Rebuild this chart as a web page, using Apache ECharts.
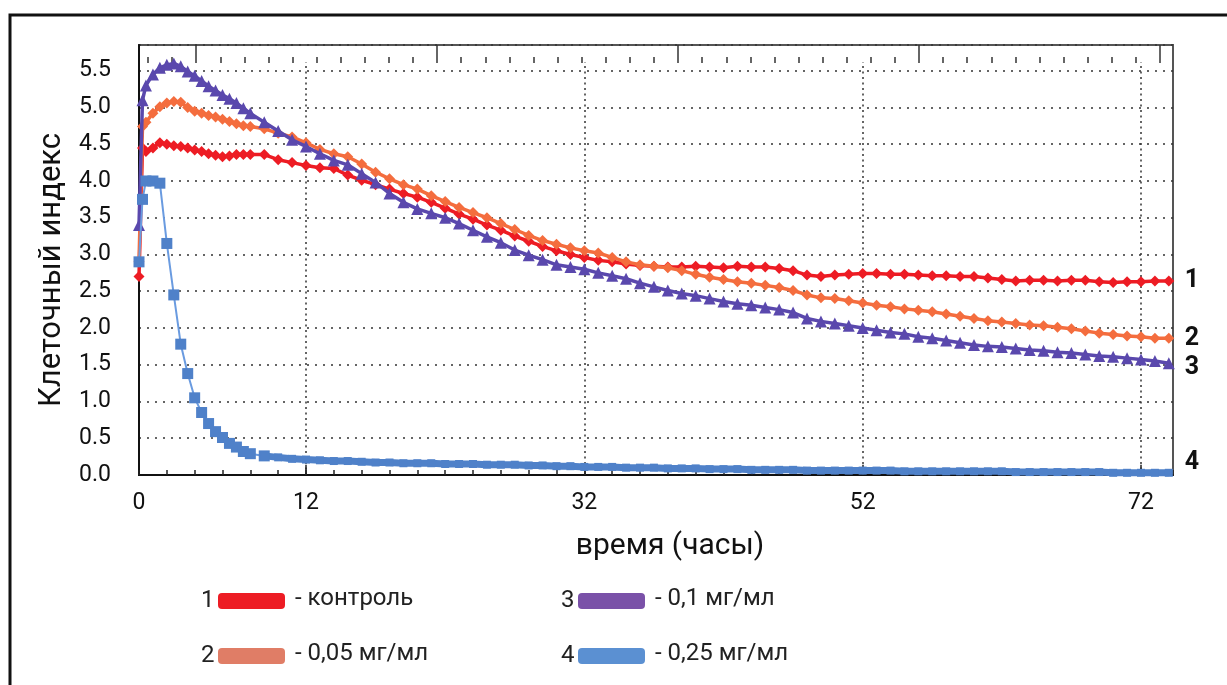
<!DOCTYPE html>
<html>
<head>
<meta charset="utf-8">
<script src="https://cdn.jsdelivr.net/npm/echarts@6/dist/echarts.min.js"></script>
<style>
  html, body { margin: 0; padding: 0; background: #fff; }
  #chart { width: 1227px; height: 685px; }
</style>
</head>
<body>
<div id="chart"></div>
<script>
// Time points, hours
const hours = [0, 0.25, 0.5, 1, 1.5, 2, 2.5, 3, 3.5, 4, 4.5, 5, 5.5, 6, 6.5, 7, 7.5, 8,
  9, 10, 11, 12, 13, 14, 15, 16, 17, 18, 19, 20, 21, 22, 23, 24, 25, 26, 27, 28,
  29, 30, 31, 32, 33, 34, 35, 36, 37, 38, 39, 40, 41, 42, 43, 44, 45, 46, 47, 48,
  49, 50, 51, 52, 53, 54, 55, 56, 57, 58, 59, 60, 61, 62, 63, 64, 65, 66, 67, 68,
  69, 70, 71, 72, 73, 74];

// Cell index, control
const control = [2.70, 4.45, 4.40, 4.45, 4.52, 4.50, 4.48, 4.47, 4.45, 4.42, 4.40, 4.37, 4.35, 4.33, 4.34, 4.36, 4.36, 4.36,
  4.36, 4.29, 4.25, 4.21, 4.18, 4.17, 4.08, 4.01, 3.95, 3.89,
  3.83, 3.78, 3.71, 3.63, 3.55, 3.48, 3.40, 3.33, 3.25, 3.18,
  3.11, 3.05, 3.00, 2.96, 2.92, 2.90, 2.87, 2.85, 2.84, 2.83,
  2.83, 2.84, 2.83, 2.82, 2.84, 2.83, 2.83, 2.81, 2.78, 2.72,
  2.70, 2.72, 2.73, 2.74, 2.74, 2.73, 2.73, 2.72, 2.71, 2.71,
  2.70, 2.70, 2.68, 2.66, 2.64, 2.65, 2.65, 2.64, 2.65, 2.65,
  2.63, 2.62, 2.63, 2.63, 2.64, 2.64];

// 0,05 mg/ml
const dose005 = [2.90, 4.74, 4.80, 4.92, 5.01, 5.06, 5.08, 5.07, 5.00, 4.95, 4.92, 4.89, 4.87, 4.84, 4.81, 4.78, 4.75, 4.74,
  4.71, 4.65, 4.60, 4.52, 4.43, 4.37, 4.33, 4.23, 4.12, 4.03,
  3.95, 3.89, 3.80, 3.72, 3.64, 3.57, 3.50, 3.42, 3.34, 3.26,
  3.19, 3.14, 3.09, 3.05, 3.02, 2.96, 2.90, 2.86, 2.84, 2.82,
  2.78, 2.73, 2.69, 2.66, 2.63, 2.61, 2.58, 2.55, 2.51, 2.45,
  2.41, 2.40, 2.37, 2.34, 2.31, 2.29, 2.26, 2.24, 2.22, 2.19,
  2.16, 2.13, 2.10, 2.08, 2.06, 2.04, 2.03, 2.01, 1.99, 1.96,
  1.93, 1.91, 1.89, 1.88, 1.86, 1.86];

// 0,1 mg/ml
const dose01 = [3.40, 5.10, 5.30, 5.45, 5.54, 5.58, 5.60, 5.56, 5.49, 5.43, 5.36, 5.29, 5.23, 5.17, 5.12, 5.06, 4.99, 4.92,
  4.80, 4.68, 4.56, 4.47, 4.37, 4.28, 4.22, 4.10, 3.98, 3.83,
  3.71, 3.62, 3.56, 3.50, 3.42, 3.33, 3.24, 3.16, 3.06, 2.99,
  2.93, 2.86, 2.83, 2.80, 2.75, 2.71, 2.67, 2.61, 2.56, 2.51,
  2.47, 2.44, 2.40, 2.36, 2.33, 2.31, 2.28, 2.25, 2.21, 2.13,
  2.09, 2.06, 2.03, 2.00, 1.97, 1.94, 1.92, 1.88, 1.86, 1.83,
  1.80, 1.77, 1.75, 1.74, 1.72, 1.70, 1.69, 1.67, 1.66, 1.64,
  1.62, 1.61, 1.59, 1.57, 1.55, 1.52];

// 0,25 mg/ml
const dose025 = [2.90, 3.75, 4.00, 4.00, 3.97, 3.15, 2.45, 1.78, 1.38, 1.05, 0.85, 0.70, 0.59, 0.51, 0.43, 0.38, 0.32, 0.29,
  0.26, 0.24, 0.22, 0.21, 0.20, 0.19, 0.19, 0.18, 0.17, 0.17,
  0.16, 0.16, 0.16, 0.15, 0.15, 0.15, 0.14, 0.14, 0.14, 0.13,
  0.13, 0.12, 0.12, 0.11, 0.11, 0.11, 0.10, 0.10, 0.10, 0.09,
  0.09, 0.09, 0.08, 0.08, 0.08, 0.07, 0.07, 0.07, 0.07, 0.06,
  0.06, 0.06, 0.06, 0.06, 0.06, 0.06, 0.05, 0.05, 0.05, 0.05,
  0.05, 0.05, 0.05, 0.05, 0.04, 0.04, 0.04, 0.04, 0.04, 0.04,
  0.04, 0.03, 0.03, 0.03, 0.03, 0.03];

const xTickLabels = [0, 12, 32, 52, 72];
const xGridHours = [12, 32, 52, 72];
const curveNumbers = ['1', '2', '3', '4'];
const legendTexts = ['- контроль', '- 0,05 мг/мл', '- 0,1 мг/мл', '- 0,25 мг/мл'];
const lineColors = ['#ed1c24', '#f46d3e', '#5a48ad', '#4f81c9'];
const swatchColors = ['#ed1c24', '#e07d66', '#7a51a8', '#5b90d2'];

const FONT = 'Roboto, "Noto Sans", sans-serif';
const pairs = (ys, from, to) => hours.slice(from, to).map((h, i) => [h, ys[from + i]]);

const chart = echarts.init(document.getElementById('chart'), null, { renderer: 'canvas' });

// dotted vertical guides plus the longer solid ticks on the time axis
const guideLines = [];
xGridHours.forEach(h => {
  guideLines.push([{ coord: [h, 0] }, { coord: [h, 5.62] }]);
  guideLines.push([{ coord: [h, 0], lineStyle: { type: 'solid', width: 1.5, color: '#222' } }, { coord: [h, 0.14] }]);
});

const endLabel = (txt, dy) => ({
  show: true,
  formatter: () => txt,
  distance: 16,
  offset: [0, dy],
  color: '#111',
  fontFamily: FONT,
  fontWeight: 'bold',
  fontSize: 25
});

// tick positions of the upper frame scale
const topTicks = Array.from({ length: 43 }, (_, i) => String(i));

// legend drawn as number, colour bar and caption
const legendGraphics = [];
const legendCols = [201, 561];
const legendRows = [601, 656];
curveNumbers.forEach((num, i) => {
  const col = legendCols[Math.floor(i / 2)];
  const row = legendRows[i % 2];
  legendGraphics.push({
    type: 'text', left: col, top: row - 12,
    style: { text: num, fontFamily: FONT, fontSize: 24, fill: '#222' }
  });
  legendGraphics.push({
    type: 'rect', shape: { x: col + 17, y: row - 8, width: 67, height: 16, r: 4 },
    style: { fill: swatchColors[i] }
  });
  legendGraphics.push({
    type: 'text', left: col + 94, top: row - 14,
    style: { text: legendTexts[i], fontFamily: FONT, fontSize: 24, fill: '#222' }
  });
});

const topAxis = (len, interval) => ({
  type: 'category', gridIndex: 1, position: 'top', boundaryGap: false, data: topTicks,
  axisLine: { show: false }, axisLabel: { show: false }, splitLine: { show: false }, splitArea: { show: false },
  axisTick: { show: true, inside: true, length: len, interval: interval, lineStyle: { color: '#333', width: 1.5, type: 'solid' } }
});

const option = {
  animation: false,
  backgroundColor: '#fff',
  grid: [
    { left: 139, top: 45, right: 54, bottom: 210, show: true, borderColor: '#555', borderWidth: 2, backgroundColor: 'transparent' },
    { left: 148, top: 45, width: 1012, height: 12 }
  ],
  xAxis: [
    {
      type: 'value', gridIndex: 0, min: 0, max: 74.3, interval: 2,
      name: 'время (часы)', nameLocation: 'middle', nameGap: 56,
      nameTextStyle: { fontFamily: FONT, fontSize: 30, color: '#111', padding: [0, 0, 0, 28] },
      axisLine: { show: true, lineStyle: { color: '#111', width: 2 } },
      axisTick: { show: true, inside: true, length: 5, lineStyle: { color: '#222', width: 1.5 } },
      axisLabel: {
        margin: 17, fontFamily: FONT, fontSize: 23, color: '#111',
        formatter: v => (xTickLabels.includes(Math.round(v * 100) / 100) ? String(Math.round(v)) : '')
      },
      splitLine: { show: false }
    },
    topAxis(6, 0),
    topAxis(12, i => i % 10 === 2)
  ],
  yAxis: [
    {
      type: 'value', gridIndex: 0, min: 0, max: 5.85, interval: 0.5,
      name: 'Клеточный индекс', nameLocation: 'middle', nameGap: 70, nameRotate: 90,
      nameTextStyle: { fontFamily: FONT, fontSize: 31, color: '#111', padding: [0, 20, 0, 0] },
      axisLine: { show: true, lineStyle: { color: '#111', width: 2 } },
      axisTick: { show: false },
      axisLabel: {
        margin: 28, fontFamily: FONT, fontSize: 23, color: '#111',
        formatter: v => (Math.abs(v * 2 - Math.round(v * 2)) < 1e-6 ? v.toFixed(1) : '')
      },
      splitLine: { show: true, lineStyle: { color: '#333', width: 1.5, type: [2, 6] } }
    },
    { type: 'value', gridIndex: 1, min: 0, max: 1, show: false }
  ],
  graphic: [
    { type: 'polyline', shape: { points: [[10, 685], [10, 15], [1227, 15]] }, style: { stroke: '#111', lineWidth: 3, fill: null } },
    ...legendGraphics
  ],
  series: [
    {
      type: 'line', name: legendTexts[0], data: pairs(control, 0, hours.length),
      xAxisIndex: 0, yAxisIndex: 0, z: 3,
      symbol: 'diamond', symbolSize: 11, showAllSymbol: true,
      itemStyle: { color: lineColors[0] }, lineStyle: { color: lineColors[0], width: 3.5 },
      endLabel: endLabel(curveNumbers[0], 0),
      markLine: {
        silent: true, symbol: ['none', 'none'], label: { show: false },
        lineStyle: { color: '#333', width: 1.5, type: [2, 3.5] },
        data: guideLines, z: 1
      }
    },
    {
      type: 'line', name: legendTexts[1], data: pairs(dose005, 0, hours.length),
      z: 4, symbol: 'diamond', symbolSize: 11, showAllSymbol: true,
      itemStyle: { color: lineColors[1] }, lineStyle: { color: lineColors[1], width: 3.5 },
      endLabel: endLabel(curveNumbers[1], 0)
    },
    {
      type: 'line', name: legendTexts[2], data: pairs(dose01, 0, hours.length),
      z: 5, symbol: 'triangle', symbolSize: 12, showAllSymbol: true,
      itemStyle: { color: lineColors[2] }, lineStyle: { color: lineColors[2], width: 3.5 },
      endLabel: endLabel(curveNumbers[2], 4)
    },
    {
      type: 'line', name: legendTexts[3], data: pairs(dose025, 0, 19),
      z: 6, symbol: 'rect', symbolSize: 11, showAllSymbol: true,
      itemStyle: { color: lineColors[3] }, lineStyle: { color: '#6a9be0', width: 2 }
    },
    {
      type: 'line', name: legendTexts[3], data: pairs(dose025, 18, hours.length),
      z: 6, symbol: 'rect', symbolSize: 8, showAllSymbol: true,
      itemStyle: { color: lineColors[3] }, lineStyle: { color: lineColors[3], width: 7 },
      endLabel: endLabel(curveNumbers[3], -10)
    },
    {
      // carrier for the upper frame scale
      type: 'line', data: [], xAxisIndex: 1, yAxisIndex: 1, silent: true
    }
  ]
};

chart.setOption(option);
</script>
</body>
</html>
